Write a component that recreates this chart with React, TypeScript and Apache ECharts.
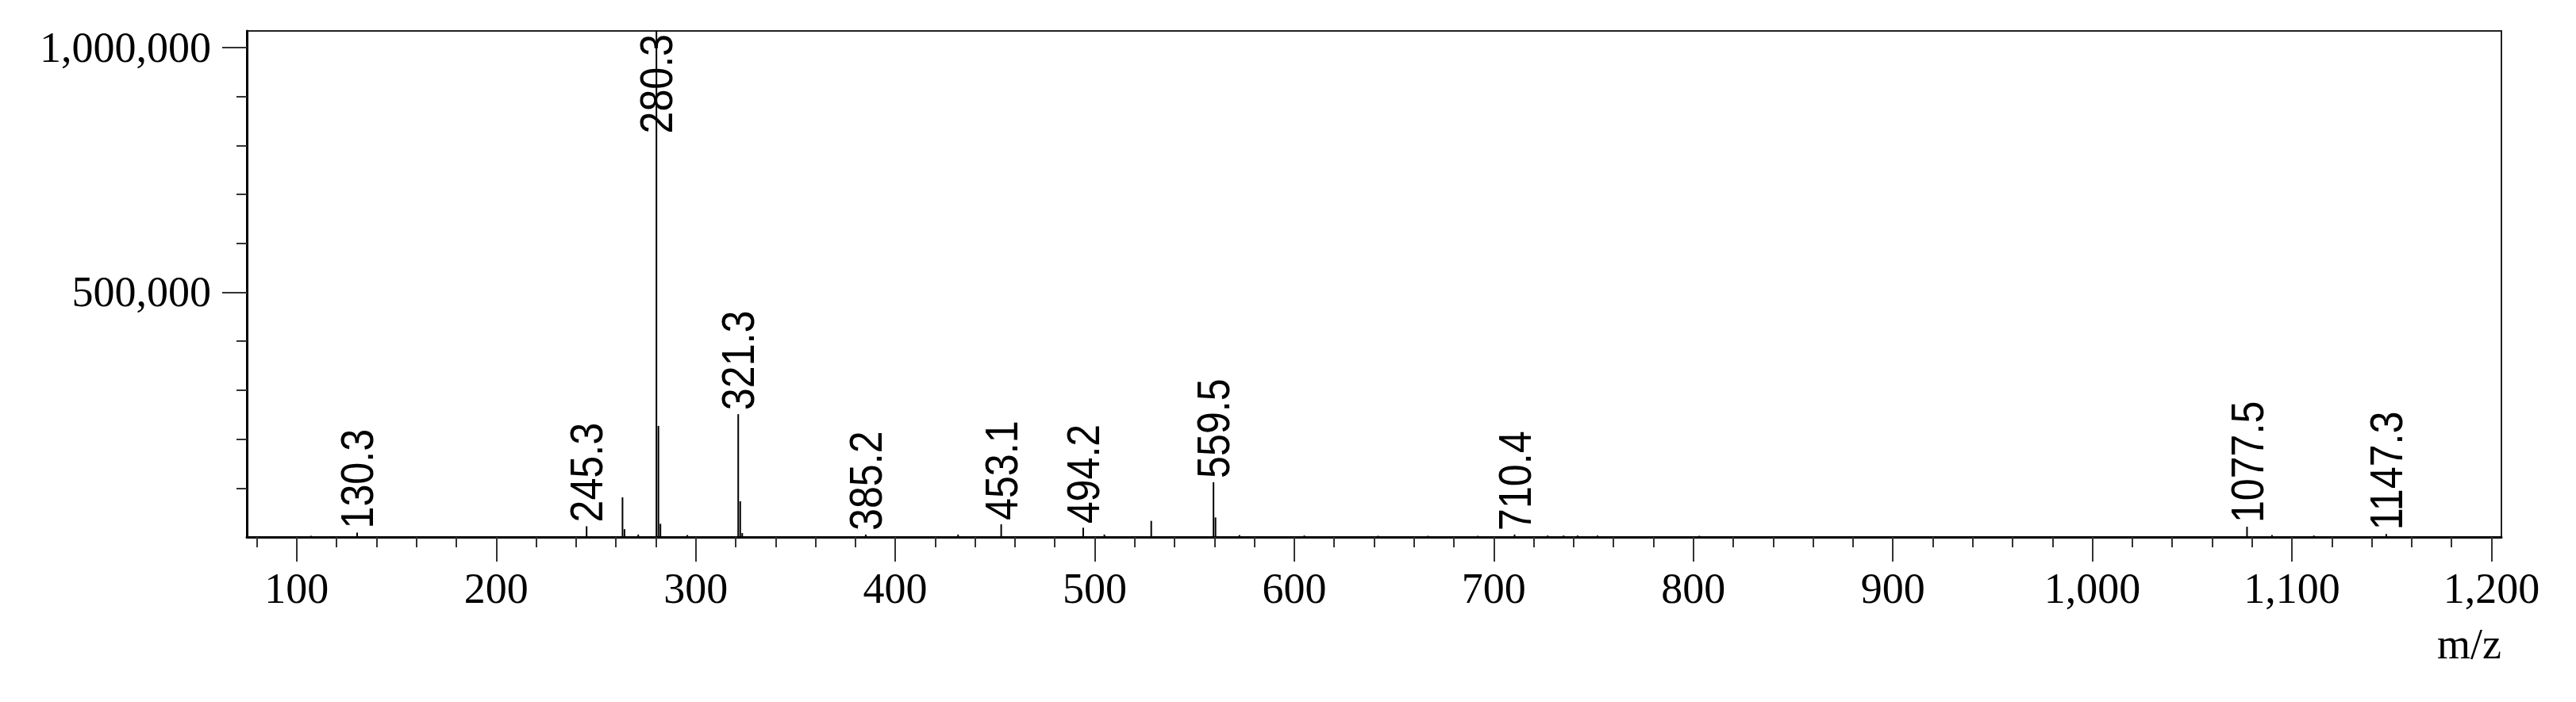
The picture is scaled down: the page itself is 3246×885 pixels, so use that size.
import React, { useEffect, useRef } from "react";
import * as echarts from "echarts";

// Labelled peaks (m/z, intensity)
const labeledMz = [130.3, 245.3, 280.3, 321.3, 385.2, 453.1, 494.2, 559.5, 710.4, 1077.5, 1147.3];
const labeledIntensity = [9000, 22000, 1034000, 251000, 5000, 26000, 19000, 112000, 5000, 21000, 6000];

// Unlabelled peaks (m/z, intensity)
const otherMz = [107.2, 263.3, 264.3, 271.2, 281.3, 282.3, 295.8, 322.3, 323.3, 431.5, 504.8, 528.3, 560.5, 572.5, 605.0, 642.0, 667.0, 692.0, 727.0, 735.0, 742.0, 752.0, 803.0, 1090.0, 1111.0];
const otherIntensity = [2500, 81000, 16000, 5000, 227000, 27000, 4000, 73000, 8000, 5000, 5000, 33000, 40000, 4000, 3000, 2500, 2500, 2500, 3000, 3000, 3000, 3000, 2500, 4000, 3000];

// Axis ticks
const xMajorTicks = [100, 200, 300, 400, 500, 600, 700, 800, 900, 1000, 1100, 1200];
const xMinorTicks = [80, 120, 140, 160, 180, 220, 240, 260, 280, 320, 340, 360, 380, 420, 440, 460, 480, 520, 540, 560, 580, 620, 640, 660, 680, 720, 740, 760, 780, 820, 840, 860, 880, 920, 940, 960, 980, 1020, 1040, 1060, 1080, 1120, 1140, 1160, 1180];
const yMajorTicks = [500000, 1000000];
const yMinorTicks = [100000, 200000, 300000, 400000, 600000, 700000, 800000, 900000];

const X_MIN = 75;
const X_MAX = 1205;
const Y_MAX = 1034000;
const X_NAME = "m/z";

const SERIF = "'Liberation Serif', 'Times New Roman', serif";
const SANS = "'Liberation Sans', Arial, sans-serif";

const fmt = (v: number) => Math.round(v).toLocaleString("en-US");

export default function App() {
  const ref = useRef<HTMLDivElement>(null);
  useEffect(() => {
    if (!ref.current) return;
    const chart = echarts.init(ref.current, undefined, { renderer: "svg" });

    const peakData: number[][] = [];
    labeledMz.forEach((mz, i) => peakData.push([mz, labeledIntensity[i]]));
    otherMz.forEach((mz, i) => peakData.push([mz, otherIntensity[i]]));

    const labelData = labeledMz.map((mz, i) => [mz, labeledIntensity[i]]);

    const axisCommonX = {
      type: "value",
      min: X_MIN,
      max: X_MAX,
      position: "bottom",
      splitLine: { show: false },
    };
    const axisCommonY = {
      type: "value",
      min: 0,
      max: Y_MAX,
      position: "left",
      splitLine: { show: false },
    };

    chart.setOption({
      animation: false,
      backgroundColor: "#fff",
      grid: {
        left: 311,
        right: 94,
        top: 39,
        bottom: 208,
        show: true,
        borderColor: "#222",
        borderWidth: 2,
        containLabel: false,
      },
      xAxis: [
        {
          ...axisCommonX,
          axisLine: { show: true, onZero: false, lineStyle: { color: "#000", width: 3 } },
          axisTick: {
            show: true,
            customValues: xMajorTicks,
            length: 31,
            lineStyle: { color: "#333", width: 2 },
          },
          axisLabel: {
            show: true,
            customValues: xMajorTicks,
            margin: 38,
            color: "#000",
            fontFamily: SERIF,
            fontSize: 54,
            formatter: (v: number) => fmt(v),
          },
        },
        {
          ...axisCommonX,
          axisLine: { show: false },
          axisTick: {
            show: true,
            customValues: xMinorTicks,
            length: 13,
            lineStyle: { color: "#333", width: 2 },
          },
          axisLabel: { show: false },
        },
      ],
      yAxis: [
        {
          ...axisCommonY,
          axisLine: { show: true, onZero: false, lineStyle: { color: "#000", width: 3 } },
          axisTick: {
            show: true,
            customValues: yMajorTicks,
            length: 31,
            lineStyle: { color: "#333", width: 2 },
          },
          axisLabel: {
            show: true,
            customValues: yMajorTicks,
            margin: 45,
            color: "#000",
            fontFamily: SERIF,
            fontSize: 54,
            formatter: (v: number) => fmt(v),
          },
        },
        {
          ...axisCommonY,
          axisLine: { show: false },
          axisTick: {
            show: true,
            customValues: yMinorTicks,
            length: 13,
            lineStyle: { color: "#333", width: 2 },
          },
          axisLabel: { show: false },
        },
      ],
      graphic: [
        {
          type: "text",
          x: 3152,
          y: 812,
          style: {
            text: X_NAME,
            fill: "#000",
            fontFamily: SERIF,
            fontSize: 54,
            align: "right",
            verticalAlign: "middle",
          },
        },
      ],
      series: [
        {
          type: "bar",
          xAxisIndex: 0,
          yAxisIndex: 0,
          barWidth: 2,
          itemStyle: { color: "#000" },
          data: peakData,
        },
        {
          type: "custom",
          xAxisIndex: 0,
          yAxisIndex: 0,
          data: labelData,
          renderItem: (params: any, api: any) => {
            const mz = api.value(0);
            const val = api.value(1);
            const pt = api.coord([mz, val]);
            const clipped = val >= Y_MAX;
            return {
              type: "text",
              x: pt[0],
              y: clipped ? pt[1] + 4 : pt[1] - 5,
              rotation: Math.PI / 2,
              scaleX: 0.88,
              style: {
                text: mz.toFixed(1),
                fill: "#000",
                fontFamily: SANS,
                fontSize: 57,
                align: clipped ? "right" : "left",
                verticalAlign: "middle",
              },
            };
          },
        },
      ],
    });

    return () => chart.dispose();
  }, []);

  return (
    <div
      ref={ref}
      style={{ position: "fixed", left: 0, top: 0, width: 3246, height: 885, background: "#fff" }}
    />
  );
}
